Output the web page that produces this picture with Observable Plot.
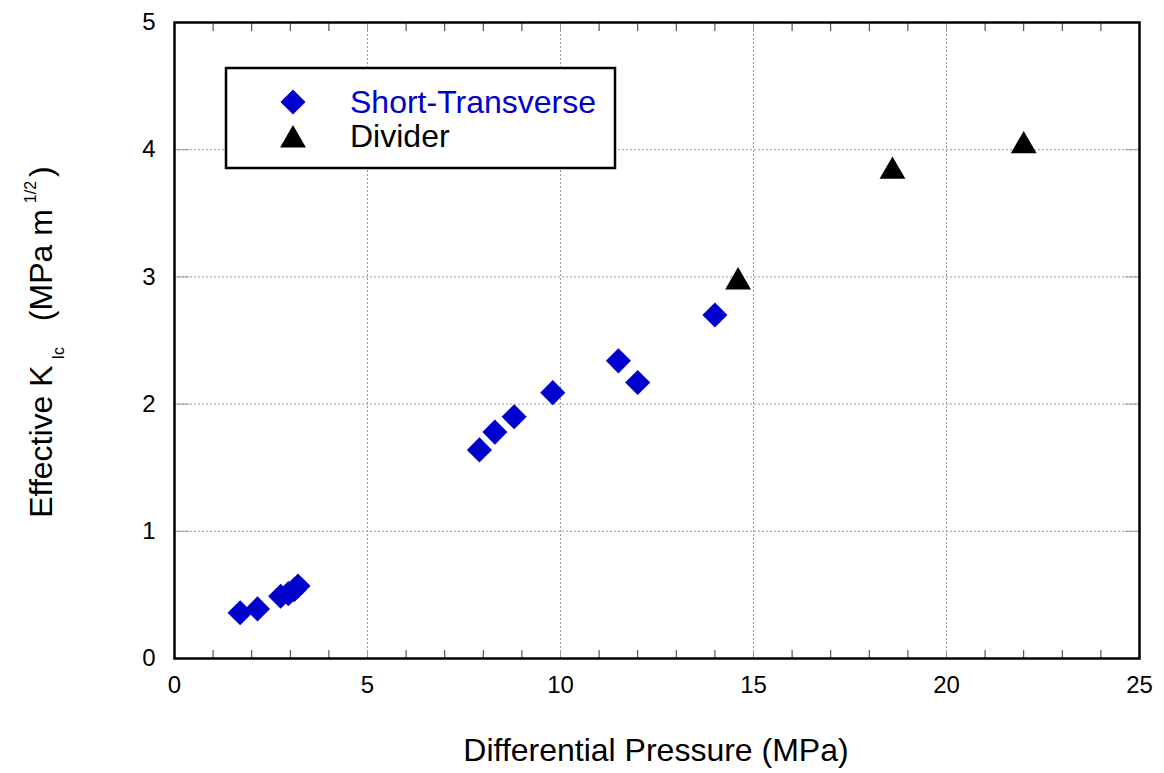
<!DOCTYPE html>
<html>
<head>
<meta charset="utf-8">
<script src="https://cdn.jsdelivr.net/npm/d3@7"></script>
<script src="https://cdn.jsdelivr.net/npm/@observablehq/plot@0.6"></script>
<style>
  html, body { margin: 0; padding: 0; background: #fff; }
  #chart { position: relative; width: 1164px; height: 773px; }
</style>
</head>
<body>
<div id="chart"></div>
<script>
// Effective fracture toughness vs. differential pressure
const shortTransverseX = [1.7, 2.15, 2.75, 2.95, 3.1, 3.2, 7.9, 8.3, 8.8, 9.8, 11.5, 12.0, 14.0];
const shortTransverseY = [0.36, 0.39, 0.49, 0.51, 0.54, 0.57, 1.64, 1.78, 1.90, 2.09, 2.34, 2.17, 2.70];
const dividerX = [14.6, 18.6, 22.0];
const dividerY = [2.96, 3.83, 4.03];

const xTickLabels = [0, 5, 10, 15, 20, 25];
const yTickLabels = [0, 1, 2, 3, 4, 5];
const xGrid = [5, 10, 15, 20];
const yGrid = [1, 2, 3, 4];
const xMinor = d3.range(1, 25).filter(d => d % 5 !== 0);

const seriesNames = ["Short-Transverse", "Divider"];
const xTitle = "Differential Pressure (MPa)";

const font = '"Liberation Sans", Arial, Helvetica, sans-serif';
const blue = "#0000cc";
const gridColor = "#999999";

const shortTransverse = shortTransverseX.map((x, i) => ({x, y: shortTransverseY[i]}));
const divider = dividerX.map((x, i) => ({x, y: dividerY[i]}));

const blank = () => "";
const plain = d => String(d);

const plot = Plot.plot({
  width: 1164,
  height: 773,
  marginLeft: 174,
  marginRight: 25,
  marginTop: 22,
  marginBottom: 115,
  style: {fontFamily: font, fontSize: "24px", color: "#000", background: "#fff"},
  x: {domain: [0, 25]},
  y: {domain: [0, 5]},
  marks: [
    Plot.gridX(xGrid, {stroke: gridColor, strokeOpacity: 1, strokeDasharray: "2,2"}),
    Plot.gridY(yGrid, {stroke: gridColor, strokeOpacity: 1, strokeDasharray: "2,2"}),
    // inward tick marks on all four sides
    Plot.axisX(xMinor, {anchor: "bottom", tickSize: -8, tickFormat: blank, label: null, stroke: "#333"}),
    Plot.axisX(xMinor, {anchor: "top", tickSize: -8, tickFormat: blank, label: null, stroke: "#333"}),
    Plot.axisX(xGrid, {anchor: "bottom", tickSize: -8, tickFormat: blank, label: null, stroke: gridColor}),
    Plot.axisX(xGrid, {anchor: "top", tickSize: -8, tickFormat: blank, label: null, stroke: gridColor}),
    Plot.axisY(yGrid, {anchor: "left", tickSize: -15, tickFormat: blank, label: null, stroke: gridColor}),
    Plot.axisY(yGrid, {anchor: "right", tickSize: -15, tickFormat: blank, label: null, stroke: gridColor}),
    // tick labels
    Plot.axisX(xTickLabels, {anchor: "bottom", tickSize: 0, tickPadding: 17, tickFormat: plain, label: null, fontSize: 24}),
    Plot.axisY(yTickLabels, {anchor: "left", tickSize: 0, tickPadding: 19, tickFormat: plain, label: null, fontSize: 24}),
    Plot.frame({stroke: "#000", strokeWidth: 2.5}),
    Plot.dot(shortTransverse, {x: "x", y: "y", symbol: "diamond2", r: 11.3, fill: blue, stroke: "none"}),
    Plot.dot(divider, {x: "x", y: "y", symbol: "triangle", r: 9.6, fill: "#000", stroke: "none"})
  ]
});

document.getElementById("chart").appendChild(plot);

const svg = d3.select(plot);

// axis titles
svg.append("text")
  .attr("x", 656).attr("y", 761)
  .attr("text-anchor", "middle")
  .attr("font-family", font).attr("font-size", 32).attr("fill", "#000")
  .text(xTitle);

const yt = svg.append("text")
  .attr("transform", "translate(52,342) rotate(-90)")
  .attr("text-anchor", "middle")
  .attr("font-family", font).attr("font-size", 32).attr("fill", "#000");
yt.append("tspan").text("Effective K");
yt.append("tspan").attr("font-size", 16).attr("dx", 6).attr("dy", 12).text("Ic");
yt.append("tspan").attr("dx", 8).attr("dy", -12).text("\u00a0 (MPa m");
yt.append("tspan").attr("font-size", 16).attr("dx", 6).attr("dy", -16).text("1/2");
yt.append("tspan").attr("dx", 4).attr("dy", 16).text(")");

// legend box inside the plot area
const lg = svg.append("g").attr("transform", "translate(226,68)");
lg.append("rect").attr("width", 389).attr("height", 100)
  .attr("fill", "#fff").attr("stroke", "#000").attr("stroke-width", 2.5);
lg.append("path")
  .attr("transform", "translate(67,34)")
  .attr("d", d3.symbol(d3.symbolDiamond2, Math.PI * 11.3 * 11.3)())
  .attr("fill", blue);
lg.append("path")
  .attr("transform", "translate(67,72)")
  .attr("d", d3.symbol(d3.symbolTriangle, Math.PI * 9.6 * 9.6)())
  .attr("fill", "#000");
lg.append("text").attr("x", 124).attr("y", 45).attr("text-anchor", "start")
  .attr("font-family", font).attr("font-size", 32).attr("fill", blue)
  .text(seriesNames[0]);
lg.append("text").attr("x", 124).attr("y", 79).attr("text-anchor", "start")
  .attr("font-family", font).attr("font-size", 32).attr("fill", "#000")
  .text(seriesNames[1]);
</script>
</body>
</html>
